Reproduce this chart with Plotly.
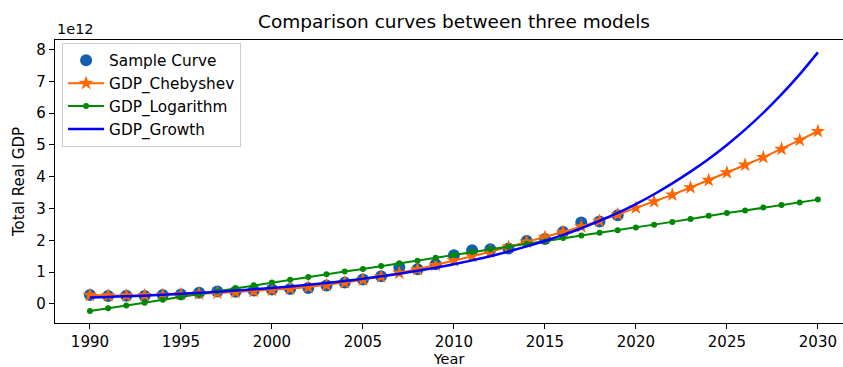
import plotly.graph_objects as go

# ---- data (values in units of 1e12) ----
years_sample = list(range(1990, 2020))
sample_curve = [0.28, 0.25, 0.26, 0.25, 0.28, 0.30, 0.35, 0.39, 0.38, 0.42,
                0.45, 0.47, 0.50, 0.58, 0.67, 0.77, 0.87, 1.15, 1.09, 1.25,
                1.53, 1.69, 1.72, 1.74, 1.98, 2.04, 2.26, 2.56, 2.59, 2.79]

years_model = list(range(1990, 2031))
gdp_chebyshev = [0.28, 0.26, 0.26, 0.27, 0.28, 0.30, 0.32, 0.34, 0.37, 0.40,
                 0.44, 0.48, 0.53, 0.59, 0.67, 0.76, 0.86, 0.97, 1.09, 1.22,
                 1.36, 1.50, 1.64, 1.79, 1.95, 2.10, 2.26, 2.43, 2.61, 2.81,
                 3.02, 3.22, 3.43, 3.66, 3.89, 4.13, 4.37, 4.61, 4.87, 5.15,
                 5.43]
gdp_logarithm = [-0.22, -0.14, -0.05, 0.04, 0.13, 0.22, 0.30, 0.39, 0.50, 0.59,
                 0.67, 0.76, 0.85, 0.93, 1.02, 1.10, 1.19, 1.28, 1.36, 1.45,
                 1.54, 1.63, 1.72, 1.80, 1.89, 1.97, 2.07, 2.15, 2.24, 2.32,
                 2.40, 2.49, 2.58, 2.67, 2.77, 2.86, 2.94, 3.03, 3.11, 3.19,
                 3.28]
gdp_growth = [0.20, 0.22, 0.24, 0.26, 0.29, 0.32, 0.35, 0.38, 0.42, 0.46,
              0.50, 0.55, 0.60, 0.66, 0.72, 0.79, 0.87, 0.95, 1.04, 1.14,
              1.25, 1.37, 1.50, 1.65, 1.81, 1.98, 2.17, 2.38, 2.61, 2.86,
              3.14, 3.45, 3.79, 4.16, 4.56, 5.00, 5.48, 6.01, 6.59, 7.22,
              7.91]

x_ticks = [1990, 1995, 2000, 2005, 2010, 2015, 2020, 2025, 2030]
y_ticks = [0, 1, 2, 3, 4, 5, 6, 7, 8]

FONT = "DejaVu Sans"

fig = go.Figure()
fig.add_trace(go.Scatter(x=years_sample, y=sample_curve, mode="markers",
                         name="Sample Curve", legendgroup="a",
                         marker=dict(color="#1260ad", size=12, line=dict(width=0))))
fig.add_trace(go.Scatter(x=years_model, y=gdp_chebyshev, mode="lines+markers",
                         name="GDP_Chebyshev", legendgroup="b",
                         line=dict(color="#ff6600", width=2),
                         marker=dict(symbol="star", color="#ff6600", size=11, line=dict(width=0))))
fig.add_trace(go.Scatter(x=years_model, y=gdp_logarithm, mode="lines+markers",
                         name="GDP_Logarithm", legendgroup="c",
                         line=dict(color="#008800", width=2),
                         marker=dict(symbol="circle", color="#008800", size=6, line=dict(width=0))))
fig.add_trace(go.Scatter(x=years_model, y=gdp_growth, mode="lines",
                         name="GDP_Growth", legendgroup="d",
                         line=dict(color="#0000ff", width=2.5, shape="spline")))

fig.update_layout(
    width=843, height=367,
    margin=dict(l=55, r=0, t=40, b=44, autoexpand=False),
    paper_bgcolor="white", plot_bgcolor="white",
    font=dict(family=FONT, color="black", size=15),
    title=dict(text="Comparison curves between three models",
               x=454 / 843, xref="container", xanchor="center",
               y=1 - 22 / 367, yref="container", yanchor="middle",
               font=dict(family=FONT, size=18.5, color="black")),
    showlegend=True,
    legend=dict(x=0.009, y=0.99, xanchor="left", yanchor="top",
                bgcolor="rgba(255,255,255,0.8)", bordercolor="#cccccc", borderwidth=1,
                font=dict(family=FONT, size=15.3, color="black"),
                tracegroupgap=0, itemwidth=36),
    xaxis=dict(range=[1988.08, 2031.38], tickvals=x_ticks,
               ticks="outside", ticklen=5, tickwidth=1.2, tickcolor="black",
               showline=True, linecolor="black", linewidth=1.3, mirror=True,
               showgrid=False, zeroline=False,
               tickfont=dict(family=FONT, size=15),
               title=dict(text="Year", font=dict(family=FONT, size=14.5), standoff=7)),
    yaxis=dict(range=[-0.6, 8.3], tickvals=y_ticks,
               ticks="outside", ticklen=5, tickwidth=1.2, tickcolor="black",
               showline=True, linecolor="black", linewidth=1.3,
               showgrid=False, zeroline=False,
               tickfont=dict(family=FONT, size=15),
               title=dict(text="Total Real GDP", font=dict(family=FONT, size=15), standoff=8)),
    annotations=[dict(text="1e12", xref="paper", yref="paper", x=0, y=1,
                      xanchor="left", yanchor="bottom", yshift=1, showarrow=False,
                      font=dict(family=FONT, size=14.5, color="black"))],
)

fig.write_html("out.html", config={"displayModeBar": False},
               post_script="document.body.style.margin='0px';")
